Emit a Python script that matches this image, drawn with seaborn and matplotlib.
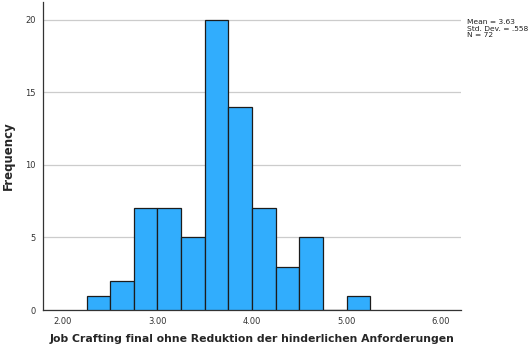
import matplotlib
matplotlib.use("Agg")
import matplotlib.pyplot as plt
import numpy as np
import seaborn as sns

# histogram bins (width .25) and their frequencies
BIN_EDGES = [2.25, 2.50, 2.75, 3.00, 3.25, 3.50, 3.75, 4.00, 4.25, 4.50, 4.75, 5.00, 5.25]
COUNTS = [1, 2, 7, 7, 5, 20, 14, 7, 3, 5, 0, 1]
XTICKS = [2.0, 3.0, 4.0, 5.0, 6.0]
YTICKS = [0, 5, 10, 15, 20]
STATS = "Mean = 3.63\nStd. Dev. = .558\nN = 72"
XLABEL = "Job Crafting final ohne Reduktion der hinderlichen Anforderungen"

BAR_COLOR = "#31adfd"
EDGE = "#1c1c1c"

sns.set_style("white")
plt.rcParams["font.family"] = ["DejaVu Sans"]

fig = plt.figure(figsize=(5.31, 3.54), dpi=100)
ax = fig.add_axes([0.081, 0.124, 0.787, 0.870])

centers = (np.array(BIN_EDGES[:-1]) + np.array(BIN_EDGES[1:])) / 2
sns.histplot(
    x=centers,
    weights=COUNTS,
    bins=BIN_EDGES,
    color=BAR_COLOR,
    alpha=1,
    edgecolor=EDGE,
    linewidth=0.9,
    ax=ax,
    zorder=3,
)

ax.set_xlim(1.79, 6.21)
ax.set_ylim(0, 21.2)
ax.set_xticks(XTICKS)
ax.set_xticklabels([f"{t:.2f}" for t in XTICKS], fontsize=6, color="#333333")
ax.set_yticks(YTICKS)
ax.set_yticklabels([str(t) for t in YTICKS], fontsize=6, color="#333333")
ax.tick_params(length=0, pad=5)

ax.yaxis.grid(True, color="#cccccc", linewidth=0.9, zorder=0)
ax.xaxis.grid(False)
ax.set_axisbelow(True)

for side in ["top", "right"]:
    ax.spines[side].set_visible(False)
for side in ["left", "bottom"]:
    ax.spines[side].set_color("#333333")
    ax.spines[side].set_linewidth(0.9)

ax.set_ylabel("Frequency", fontsize=8.5, fontweight="bold", labelpad=8)
ax.set_xlabel(XLABEL, fontsize=7.8, fontweight="bold", labelpad=6)

fig.text(0.879, 0.945, STATS, fontsize=5.4, va="top", ha="left",
         linespacing=1.1, color="#222222")

fig.savefig("out.png", dpi=100)
